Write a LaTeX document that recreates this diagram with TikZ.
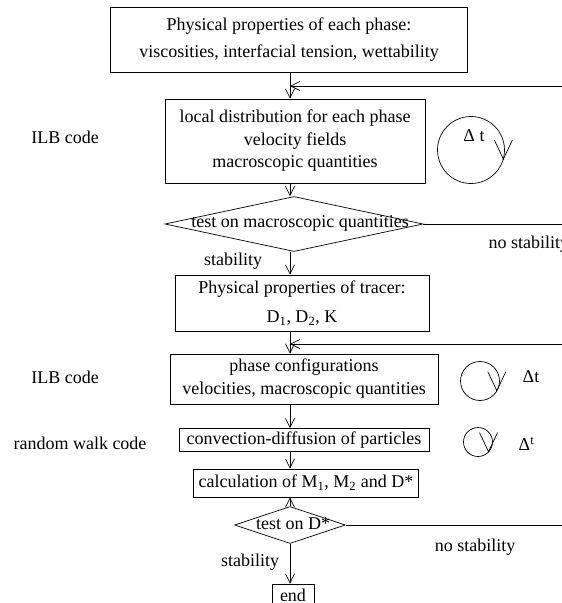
\documentclass[tikz,border=0pt]{standalone}
\usepackage{fontspec}
\setmainfont{Liberation Serif}
\usetikzlibrary{arrows.meta,shapes.geometric}

\tikzset{
  box/.style={draw,rectangle,inner sep=0pt,align=center},
  test/.style={draw,diamond,inner sep=0pt},
  flow/.style={-{Straight Barb[length=9pt,width=9pt]}},
  turn/.style={-{Straight Barb[length=19pt,width=18pt]}},
}

\begin{document}
\begin{tikzpicture}[x=1pt,y=-1pt,line width=0.7pt,
  font=\fontsize{18}{21}\selectfont]
\useasboundingbox (0,0) rectangle (562,603);
\clip (0,0) rectangle (562,603);
\coordinate (flow) at (290,0);
\coordinate (right) at (575,0);
\coordinate (backa) at (290,86);
\coordinate (backb) at (290,344);

% two-phase flow part
\node[box,minimum width=357,minimum height=65,
  font=\fontsize{18}{27}\selectfont] (props) at (289,40)
  {Physical properties of each phase:\\viscosities, interfacial tension, wettability};
\node[box,minimum width=260,minimum height=84,
  font=\fontsize{18}{22.5}\selectfont] (ilb) at (295,141)
  {local distribution for each phase\\velocity fields\\macroscopic quantities};
\node (ilblab) at (65,137) {ILB code};
\node[draw,circle,minimum size=67,inner sep=0pt] (loopa) at (471,150) {};
\node (dta) at (474,136) {Δ t};
\draw[turn] ([yshift=1pt]loopa.-17) -- (loopa.-17);

\node[test,minimum width=258,minimum height=55] (testa) at (294,224) {};
\node (testatxt) at (300,223) {test on macroscopic quantities};
\node[anchor=west] (nostaba) at (485,244) {no stability};
\node (staba) at (233,261) {stability};

% tracer part
\node[box,minimum width=254,minimum height=56,
  font=\fontsize{18}{29}\selectfont] (tracer) at (302,303)
  {Physical properties of tracer:\\D\textsubscript{1}, D\textsubscript{2}, K};
\node[box,minimum width=268,minimum height=50,
  font=\fontsize{18}{23}\selectfont] (phase) at (304,379)
  {phase configurations\\velocities, macroscopic quantities};
\node (ilblabb) at (65,377) {ILB code};
\node[draw,circle,minimum size=39,inner sep=0pt] (loopb) at (480,381) {};
\node[anchor=west] (dtb) at (519,377) {Δt};
\draw[turn] ([yshift=1pt]loopb.-32) -- (loopb.-32);

\node[box,minimum width=250,minimum height=23] (walk) at (304,440)
  {convection-diffusion of particles};
\node (walklab) at (80,443) {random walk code};
\node[draw,circle,minimum size=29,inner sep=0pt] (loopc) at (478,442) {};
\node[anchor=west] (dtc) at (515,444) {Δ\textsuperscript{t}};
\draw[turn] ([yshift=1pt]loopc.-45) -- (loopc.-45);

\node[box,minimum width=225,minimum height=28] (moments) at (306,483)
  {calculation of M\textsubscript{1}, M\textsubscript{2} and D*};
\node[test,minimum width=111,minimum height=37] (testb) at (290,525) {};
\node (testbtxt) at (293,524) {test on D*};
\node (nostabb) at (475,547) {no stability};
\node (stabb) at (250,562) {stability};
\node[box,minimum width=42,minimum height=22] (stop) at (293,595) {end};

% connectors
\draw[flow] (props.south -| flow) -- (ilb.north -| flow);
\draw[flow] (ilb.south -| flow) -- (testa.north -| flow);
\draw[flow] (testa.south -| flow) -- (tracer.north -| flow);
\draw[flow] (tracer.south -| flow) -- (phase.north -| flow);
\draw[flow] (phase.south -| flow) -- (walk.north -| flow);
\draw[flow] (walk.south -| flow) -- (moments.north -| flow);
\draw[flow] (testb.north) -- (moments.south -| flow);
\draw[flow] (testb.south) -- (stop.north -| flow);
\draw[flow] (testa.east) -- (testa.east -| right) |- (backa);
\draw[flow] (testb.east) -- (testb.east -| right) |- (backb);
\end{tikzpicture}
\end{document}
